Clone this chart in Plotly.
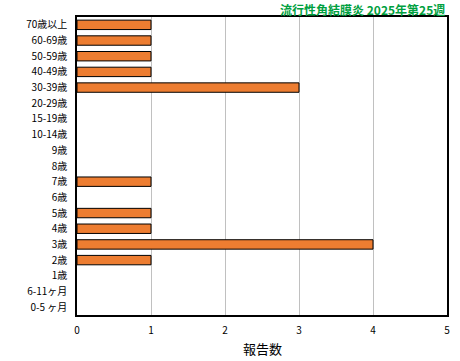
import plotly.graph_objects as go

categories = ["70歳以上", "60-69歳", "50-59歳", "40-49歳", "30-39歳", "20-29歳", "15-19歳",
              "10-14歳", "9歳", "8歳", "7歳", "6歳", "5歳", "4歳", "3歳", "2歳", "1歳",
              "6-11ヶ月", "0-5 ヶ月"]
values = [1, 1, 1, 1, 3, 0, 0, 0, 0, 0, 1, 0, 1, 1, 4, 1, 0, 0, 0]
x_ticks = [0, 1, 2, 3, 4, 5]
title_text = "流行性角結膜炎 2025年第25週"
x_title = "報告数"

font_family = "Noto Sans CJK JP, sans-serif"

fig = go.Figure(go.Bar(
    y=categories, x=values, orientation="h",
    marker=dict(color="#ED7D31",
                line=dict(color="black", width=[1 if v > 0 else 0 for v in values])),
    width=0.6,
))

fig.update_layout(
    width=460, height=361,
    margin=dict(l=77, r=13, t=17, b=46, autoexpand=False),
    paper_bgcolor="white", plot_bgcolor="white",
    showlegend=False,
    font=dict(family=font_family, size=10, color="black"),
    xaxis=dict(range=[0, 5], tickvals=x_ticks, showgrid=True, gridcolor="#C0C0C0", gridwidth=1,
               showline=True, linecolor="black", linewidth=1.5, mirror=True,
               ticks="outside", ticklen=5, tickcolor="rgba(0,0,0,0)",
               zeroline=False, tickfont=dict(size=10), automargin=False),
    yaxis=dict(categoryorder="array", categoryarray=categories[::-1],
               showline=True, linecolor="black", linewidth=1.5, mirror=True,
               showgrid=False, ticks="outside", ticklen=6, tickcolor="rgba(0,0,0,0)",
               tickfont=dict(size=10), automargin=False),
    annotations=[
        dict(text=title_text, x=1, xref="paper", xanchor="right",
             y=1, yref="paper", yanchor="middle", yshift=8, showarrow=False,
             font=dict(size=12, color="#00A040", family=font_family, weight="bold")),
        dict(text=x_title, x=0.5, xref="paper", xanchor="center",
             y=0, yref="paper", yanchor="middle", yshift=-33, showarrow=False,
             font=dict(size=13, color="black", family=font_family)),
    ],
)

fig.write_html("out.html")
